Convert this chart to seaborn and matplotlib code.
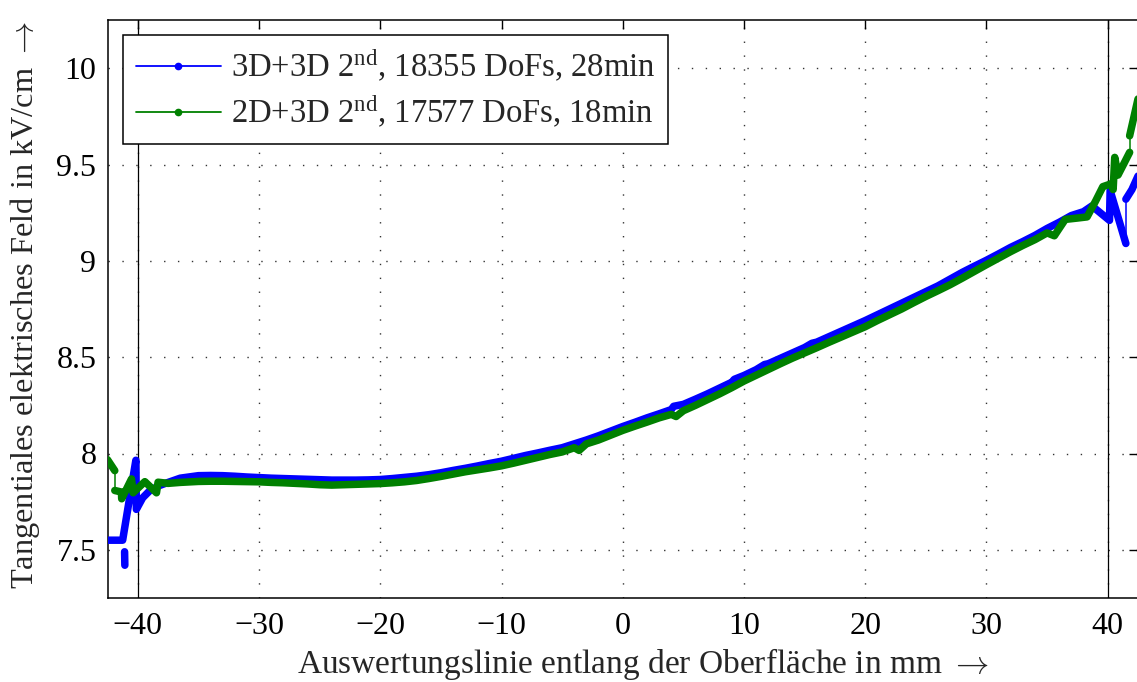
import pandas as pd
import matplotlib
matplotlib.use("Agg")
import matplotlib.pyplot as plt
from matplotlib.lines import Line2D
import seaborn as sns

# ---- data -------------------------------------------------------------
# Each solution is stored as runs of densely sampled points (x in mm,
# E_t in kV/cm).  Consecutive runs are joined by a thin connector when the
# matching entry of *_links is True.

# 3D+3D 2nd order solution
blue_runs_x = [
    [-42.5, -41.85, -41.25, -40.7, -40.16, -40.12, -39.6, -39.0, -38.2,
     -37.5, -36.5, -35, -34, -33, -32, -31, -30, -29, -28, -27, -26, -25,
     -24, -23, -22, -21, -20, -19, -18, -17, -16, -15, -14, -13, -12, -11,
     -10, -9, -8, -7, -6, -5, -4, -3, -2, -1, 0, 1, 2, 3, 4, 4.2, 5, 6, 7,
     8, 9, 9.2, 10, 11, 11.7, 12, 13, 14, 15, 15.6, 16, 17, 18, 19, 20, 21,
     22, 23, 24, 25, 26, 27, 28, 29, 30, 31, 32, 33, 34, 35, 36, 37, 38,
     38.7, 40.15, 40.2, 41.5],
    [41.5, 42.0, 42.5],
    [-41.09, -41.07],
]
blue_runs_y = [
    [7.55, 7.55, 7.55, 7.76, 7.965, 7.71, 7.77, 7.808, 7.834,
     7.85, 7.872, 7.885, 7.886, 7.885, 7.882, 7.878, 7.875, 7.872, 7.87,
     7.868, 7.866, 7.864, 7.862, 7.862, 7.862, 7.863, 7.865, 7.87, 7.876,
     7.882, 7.89, 7.90, 7.912, 7.923, 7.935, 7.948, 7.96, 7.975, 7.99,
     8.003, 8.017, 8.03, 8.05, 8.07, 8.092, 8.116, 8.14, 8.162, 8.185,
     8.206, 8.228, 8.245, 8.255, 8.282, 8.31, 8.34, 8.37, 8.385, 8.405,
     8.435, 8.462, 8.466, 8.494, 8.522, 8.55, 8.572, 8.578, 8.606, 8.634,
     8.662, 8.69, 8.72, 8.75, 8.78, 8.81, 8.84, 8.87, 8.905, 8.94, 8.972,
     9.003, 9.036, 9.07, 9.10, 9.132, 9.168, 9.20, 9.235, 9.255,
     9.285, 9.21, 9.365, 9.09],
    [9.32, 9.37, 9.44],
    [7.49, 7.42],
]
blue_links = [True, False]

# 2D+3D 2nd order solution
green_runs_x = [
    [-42.5, -41.9],
    [-41.9, -41.35, -41.33, -40.52, -40.39, -39.42, -38.46, -38.33, -37.5,
     -36.5, -35, -34, -33, -32, -31, -30, -29, -28, -27, -26, -25, -24, -23,
     -22, -21, -20, -19, -18, -17, -16, -15, -14, -13, -12, -11, -10, -9, -8,
     -7, -6, -5, -4, -3.6, -3, -2, -1, 0, 1, 2, 3, 4, 4.4, 5, 6, 7, 8, 9, 10,
     11, 12, 13, 14, 15, 16, 17, 18, 19, 20, 21, 22, 23, 24, 25, 26, 27, 28,
     29, 30, 31, 32, 33, 34, 35, 35.6, 36, 36.5, 37.5, 38.3, 39.0, 39.6,
     40.3, 40.45, 40.58, 40.85, 41.3, 41.81],
    [41.81, 42.5],
]
green_runs_y = [
    [7.968, 7.911],
    [7.808, 7.80, 7.765, 7.868, 7.796, 7.854, 7.796, 7.851, 7.845,
     7.85, 7.855, 7.856, 7.856, 7.855, 7.854, 7.853, 7.85, 7.848, 7.845,
     7.842, 7.838, 7.836, 7.838, 7.84, 7.842, 7.844, 7.848, 7.853, 7.86,
     7.87, 7.881, 7.893, 7.905, 7.915, 7.925, 7.936, 7.95, 7.965, 7.98,
     7.995, 8.008, 8.03, 8.016, 8.05, 8.07, 8.095, 8.12, 8.142, 8.163,
     8.185, 8.203, 8.192, 8.222, 8.25, 8.28, 8.31, 8.342, 8.376, 8.406,
     8.436, 8.466, 8.495, 8.522, 8.549, 8.577, 8.604, 8.631, 8.658, 8.69,
     8.72, 8.75, 8.783, 8.815, 8.845, 8.876, 8.91, 8.945, 8.98, 9.014,
     9.048, 9.08, 9.11, 9.145, 9.13, 9.168, 9.215, 9.222, 9.228, 9.31,
     9.385, 9.40, 9.37, 9.537, 9.445, 9.50, 9.563],
    [9.649, 9.84],
]
green_links = [True, True]

section_edges = [-40, 40]
x_ticks = [-40, -30, -20, -10, 0, 10, 20, 30, 40]
y_ticks = [7.5, 8, 8.5, 9, 9.5, 10]
y_ticklabels = ["7.5", "8", "8.5", "9", "9.5", "10"]

labels = [r"3D+3D 2$^{\mathrm{nd}}$, 18355 DoFs, 28min",
          r"2D+3D 2$^{\mathrm{nd}}$, 17577 DoFs, 18min"]
colors = ["#0000ff", "#008000"]


def build_frames(runs_x, runs_y, links):
    """Long-form frames for the thick runs and the thin connectors."""
    thick = pd.concat(
        [pd.DataFrame({"x": rx, "y": ry, "unit": k})
         for k, (rx, ry) in enumerate(zip(runs_x, runs_y))],
        ignore_index=True)
    rows = []
    for k, linked in enumerate(links):
        if linked:
            rows.append((runs_x[k][-1], runs_y[k][-1], k))
            rows.append((runs_x[k + 1][0], runs_y[k + 1][0], k))
    conn = pd.DataFrame(rows, columns=["x", "y", "unit"])
    return thick, conn


# ---- style ------------------------------------------------------------
sns.set_theme(style="white")
plt.rcParams["font.family"] = ["Liberation Serif", "DejaVu Serif"]
plt.rcParams["mathtext.fontset"] = "custom"
plt.rcParams["mathtext.rm"] = "Liberation Serif"
plt.rcParams["mathtext.it"] = "Liberation Serif:italic"
plt.rcParams["axes.unicode_minus"] = True

fig = plt.figure(figsize=(11.37, 6.82), dpi=100)
ax = fig.add_axes([107.5 / 1137, 84 / 682, 1030.5 / 1137, 578 / 682])

ax.grid(True, color="#333333", linestyle=(0, (1, 9)), linewidth=1.0)
for xe in section_edges:
    ax.axvline(xe, color="black", linewidth=0.9, zorder=2)

series = [(blue_runs_x, blue_runs_y, blue_links),
          (green_runs_x, green_runs_y, green_links)]
for (rx, ry, links), c in zip(series, colors):
    thick, conn = build_frames(rx, ry, links)
    if len(conn):
        sns.lineplot(data=conn, x="x", y="y", units="unit", estimator=None,
                     sort=False, color=c, linewidth=1.1, ax=ax, zorder=3)
    sns.lineplot(data=thick, x="x", y="y", units="unit", estimator=None,
                 sort=False, color=c, linewidth=5.4, ax=ax, zorder=3,
                 solid_capstyle="round", solid_joinstyle="round")

ax.set_xlim(-42.5, 42.5)
ax.set_ylim(7.25, 10.25)
ax.set_xticks(x_ticks)
ax.set_yticks(y_ticks)
ax.set_yticklabels(y_ticklabels)
ax.tick_params(direction="in", length=6.5, width=1.0, top=True, right=True,
               labelsize=23, colors="black")
ax.tick_params(axis="x", pad=10)
ax.tick_params(axis="y", pad=8)
for s in ax.spines.values():
    s.set_color("black")
    s.set_linewidth(1.1)

ax.set_xlabel(r"Auswertungslinie entlang der Oberfläche in mm $\rightarrow$",
              fontsize=24, math_fontfamily="cm")
ax.set_ylabel(r"Tangentiales elektrisches Feld in kV/cm $\rightarrow$",
              fontsize=23.3, math_fontfamily="cm")
ax.xaxis.set_label_coords(0.52, -0.083)
ax.yaxis.set_label_coords(-0.064, 0.507)

handles = [Line2D([], [], color=c, linewidth=1.3, marker="o", markersize=4.5)
           for c in colors]
leg = ax.legend(handles, labels, loc="upper left",
                bbox_to_anchor=(15.5 / 1030.5, 1 - 15 / 578), borderaxespad=0,
                fontsize=23.5, frameon=True, fancybox=False, framealpha=1,
                edgecolor="black", handlelength=2.6, handletextpad=0.3,
                labelspacing=0.3, borderpad=0.4)
leg.get_frame().set_linewidth(1.1)

fig.savefig("out.png", dpi=100)
